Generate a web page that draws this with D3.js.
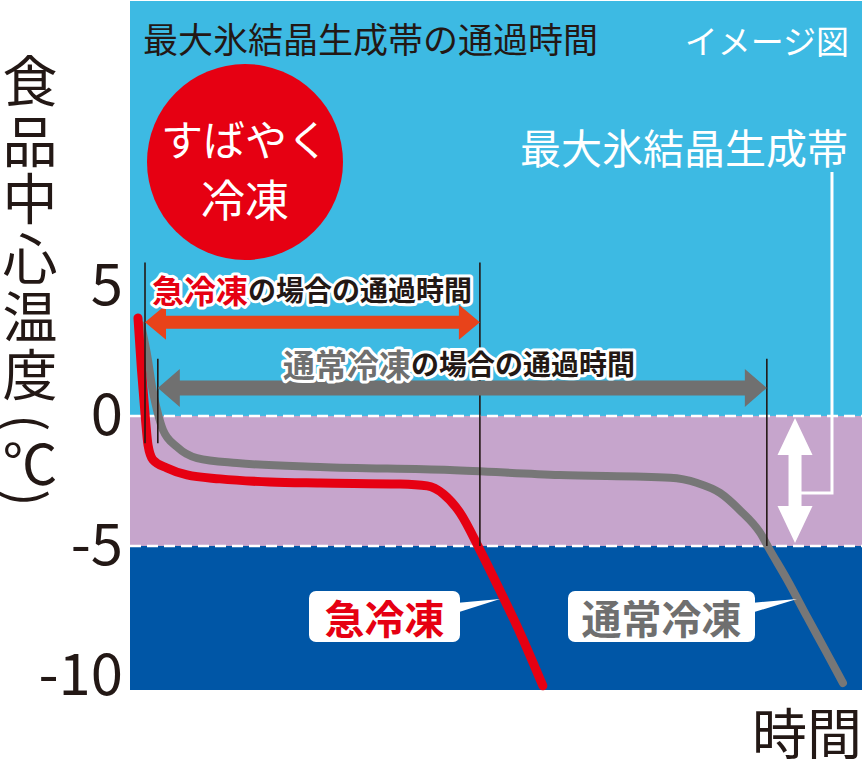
<!DOCTYPE html>
<html><head><meta charset="utf-8">
<script src="https://cdn.jsdelivr.net/npm/d3@7"></script>
<style>
html,body{margin:0;padding:0;background:#fff;}
svg{display:block;font-family:"Noto Sans CJK JP","Noto Sans",sans-serif;}
</style></head>
<body>
<svg id="chart" width="864" height="759"></svg>
<script>
// ---- data ----
const quickTime = [1.09,1.57,2.12,2.46,3.14,5.05,7.79,12.3,19.1,26.0,36.9,40.6,42.8,45.1,47.8,50.5,53.3,56.4];
const quickTemp = [3.77,1.77,-0.15,-1.12,-1.69,-2.0,-2.27,-2.42,-2.54,-2.58,-2.62,-2.69,-3.0,-3.73,-5.15,-6.69,-8.35,-10.38];
const normalTime = [1.5,2.46,3.01,3.69,4.51,6.42,9.15,14.6,25.96,43.7,58.7,73.8,77.5,80.6,83.3,86.1,87.4,89.8,92.5,95.2,97.4];
const normalTemp = [3.5,2.15,1.12,0.23,-0.54,-1.19,-1.62,-1.81,-1.96,-2.08,-2.27,-2.38,-2.58,-2.96,-3.62,-4.5,-5.15,-6.31,-7.73,-9.12,-10.27];
const yTicks = [5, 0, -5, -10];
const zoneBounds = [15.96, 0, -5, -10.54];           // top of chart, 0°C, -5°C, bottom
const zoneColors = ["#3dbae3", "#c6a5cc", "#0056a6"];
const quickMarks = [2.05, 47.8];    // passage start/end (急冷凍)
const normalMarks = [3.8, 87.0];    // passage start/end (通常冷凍)
const yLabelChars = ["食","品","中","心","温","度","(","℃",")"];

const svg = d3.select("#chart");
const x = d3.scaleLinear().domain([0, 100]).range([130, 862]);
const y = d3.scaleLinear().domain([-10.54, 15.96]).range([690, 1]);

// ---- zones ----
svg.selectAll("rect.zone").data(zoneColors).join("rect")
  .attr("x", x(0)).attr("width", x(100) - x(0))
  .attr("y", (d, i) => y(zoneBounds[i]))
  .attr("height", (d, i) => y(zoneBounds[i + 1]) - y(zoneBounds[i]))
  .attr("fill", d => d);

svg.selectAll("line.dash").data([0, -5]).join("line")
  .attr("x1", x(0)).attr("x2", x(100))
  .attr("y1", d => y(d)).attr("y2", d => y(d))
  .attr("stroke", "#fff").attr("stroke-width", 2.5).attr("stroke-dasharray", "11,6");

// ---- title texts ----
svg.append("text").attr("x", 143).attr("y", 37).attr("dominant-baseline", "central")
  .attr("font-size", 35).attr("fill", "#231815").text("最大氷結晶生成帯の通過時間");
svg.append("text").attr("x", 849).attr("y", 40).attr("dominant-baseline", "central")
  .attr("text-anchor", "end").attr("font-size", 33).attr("fill", "#fff").text("イメージ図");
svg.append("text").attr("x", 848).attr("y", 146).attr("dominant-baseline", "central")
  .attr("text-anchor", "end").attr("font-size", 41).attr("fill", "#fff").text("最大氷結晶生成帯");

// ---- red circle ----
svg.append("circle").attr("cx", 245).attr("cy", 162).attr("r", 98).attr("fill", "#e60012");
svg.append("text").attr("x", 245).attr("y", 137).attr("text-anchor", "middle").attr("dominant-baseline", "central")
  .attr("font-size", 42).attr("fill", "#fff").text("すばやく");
svg.append("text").attr("x", 245).attr("y", 198).attr("text-anchor", "middle").attr("dominant-baseline", "central")
  .attr("font-size", 44).attr("fill", "#fff").text("冷凍");

// ---- bracket + white double arrow ----
const bx = x(95.9), ax = x(90.85);
svg.append("path")
  .attr("d", `M${bx},172 L${bx},${y(-2.96)} L${ax + 6},${y(-2.96)}`)
  .attr("fill", "none").attr("stroke", "#fff").attr("stroke-width", 3);
function vArrow(cx, y0, y1, shaft, headW, headL) {
  const s = shaft / 2, h = headW / 2;
  return `M${cx},${y0} L${cx + h},${y0 + headL} L${cx + s},${y0 + headL} L${cx + s},${y1 - headL} L${cx + h},${y1 - headL} L${cx},${y1} L${cx - h},${y1 - headL} L${cx - s},${y1 - headL} L${cx - s},${y0 + headL} L${cx - h},${y0 + headL} Z`;
}
svg.append("path").attr("d", vArrow(ax, y(0) + 2, y(-5) - 3, 13, 35, 37)).attr("fill", "#fff");

// ---- curves ----
const line = d3.line().x(d => x(d[0])).y(d => y(d[1])).curve(d3.curveMonotoneX);
svg.append("path").datum(d3.zip(normalTime, normalTemp)).attr("d", line)
  .attr("fill", "none").attr("stroke", "#777777").attr("stroke-width", 8).attr("stroke-linecap", "round");
svg.append("path").datum(d3.zip(quickTime, quickTemp)).attr("d", line)
  .attr("fill", "none").attr("stroke", "#e60012").attr("stroke-width", 9).attr("stroke-linecap", "round");

// ---- marker lines ----
const marks = [
  {t: quickMarks[0], top: 5.9, bot: -1.05},
  {t: normalMarks[0], top: 2.2, bot: -1.05},
  {t: quickMarks[1], top: 5.9, bot: -5},
  {t: normalMarks[1], top: 2.2, bot: -5}
];
svg.selectAll("line.mark").data(marks).join("line")
  .attr("x1", d => x(d.t)).attr("x2", d => x(d.t))
  .attr("y1", d => y(d.top)).attr("y2", d => y(d.bot))
  .attr("stroke", "#231815").attr("stroke-width", 1.6);

// ---- horizontal double arrows ----
function hArrow(x0, x1, cy, shaft, headW, headL) {
  const s = shaft / 2, h = headW / 2;
  return `M${x0},${cy} L${x0 + headL},${cy - h} L${x0 + headL},${cy - s} L${x1 - headL},${cy - s} L${x1 - headL},${cy - h} L${x1},${cy} L${x1 - headL},${cy + h} L${x1 - headL},${cy + s} L${x0 + headL},${cy + s} L${x0 + headL},${cy + h} Z`;
}
svg.append("path").attr("d", hArrow(x(quickMarks[0]), x(quickMarks[1]), y(3.6), 13, 35, 21)).attr("fill", "#e8431a");
svg.append("path").attr("d", hArrow(x(normalMarks[0]), x(normalMarks[1]), y(1.08), 15, 38, 22)).attr("fill", "#707070");

// arrow labels
function label(xp, yp, first, firstColor, rest) {
  const t = svg.append("text").attr("x", xp).attr("y", yp).attr("dominant-baseline", "central")
    .attr("font-weight", 700).attr("stroke", "#fff").attr("stroke-width", 6)
    .attr("stroke-linejoin", "round").attr("paint-order", "stroke");
  t.append("tspan").attr("font-size", 32).attr("fill", firstColor).text(first);
  t.append("tspan").attr("font-size", 28).attr("fill", "#231815").text(rest);
}
label(152, 289, "急冷凍", "#e60012", "の場合の通過時間");
label(283, 363, "通常冷凍", "#6f6f6f", "の場合の通過時間");

// ---- callouts ----
function callout(rx, rw, tipX, txt, color) {
  const ry = 591, rh = 51;
  svg.append("path").attr("d", `M${rx + rw - 4},603 L${tipX},599 L${rx + rw - 4},613 Z`).attr("fill", "#fff");
  svg.append("rect").attr("x", rx).attr("y", ry).attr("width", rw).attr("height", rh).attr("rx", 7).attr("fill", "#fff");
  svg.append("text").attr("x", rx + rw / 2).attr("y", 617).attr("text-anchor", "middle").attr("dominant-baseline", "central")
    .attr("font-size", 40).attr("font-weight", 700).attr("fill", color).text(txt);
}
callout(309, 151, 500, "急冷凍", "#e60012");
callout(568, 187, 797, "通常冷凍", "#6f6f6f");

// ---- y axis ----
const yAxis = d3.axisLeft(y).tickValues(yTicks).tickSize(0).tickPadding(7).tickFormat(d => String(d));
const ga = svg.append("g").attr("transform", `translate(${x(0)},0)`).call(yAxis);
ga.select(".domain").remove();
ga.selectAll("text").attr("font-size", 58).attr("fill", "#231815")
  .attr("font-family", "'Noto Sans CJK JP','Noto Sans',sans-serif");

// y label (vertical)
const charY = [77, 138, 195, 255, 313, 371, 423, 460, 498];
svg.selectAll("text.ylab").data(yLabelChars).join("text")
  .attr("x", 30).attr("y", (d, i) => charY[i]).attr("text-anchor", "middle").attr("dominant-baseline", "central")
  .attr("transform", (d, i) => (d === "(" || d === ")") ? `rotate(90,30,${charY[i]})` : null)
  .attr("font-size", d => (d === "(" || d === ")") ? 50 : 55)
  .attr("fill", "#231815").text(d => d);

// x label
svg.append("text").attr("x", 862).attr("y", 730).attr("text-anchor", "end").attr("dominant-baseline", "central")
  .attr("font-size", 55).attr("fill", "#231815").text("時間");
</script>
</body></html>
